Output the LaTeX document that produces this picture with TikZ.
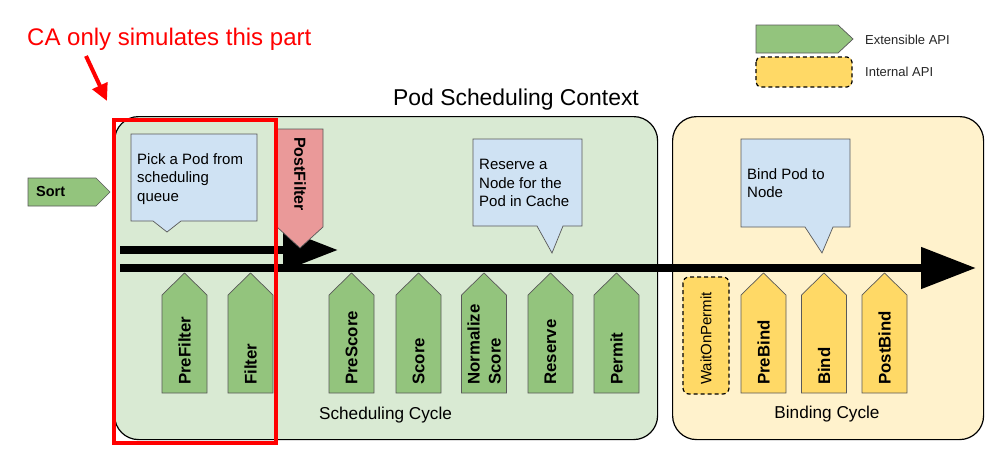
\documentclass[tikz,border=0pt]{standalone}
\usepackage{fontspec}
\setmainfont{Liberation Sans}
\usetikzlibrary{arrows.meta}
\definecolor{stagegreen}{HTML}{93C47D}
\definecolor{ctxgreen}{HTML}{D9EAD3}
\definecolor{ctxyellow}{HTML}{FFF2CC}
\definecolor{stageyellow}{HTML}{FFD966}
\definecolor{calloutblue}{HTML}{CFE2F3}
\definecolor{postpink}{HTML}{EA9999}
\definecolor{borderg}{HTML}{595959}
\newcommand\upstage[4]{%
  \draw[shapeline, fill=#3] ({#2-22.5},393) -- ({#2-22.5},295) -- (#2,273) -- ({#2+22.5},295) -- ({#2+22.5},393) -- cycle;
  \node[stagetext, rotate=90, anchor=west] (#1) at (#2,385) {#4};
}
\begin{document}
\begin{tikzpicture}[x=1pt,y=-1pt,
  ctxbox/.style={draw=black, line width=1.2pt, rounded corners=24pt, inner sep=0pt, anchor=north west},
  shapeline/.style={draw=borderg, line width=0.7pt},
  stagetext/.style={font=\bfseries\fontsize{16.8}{21}\selectfont, inner sep=0pt, align=left},
  callouttext/.style={font=\fontsize{15}{18.5}\selectfont, inner sep=0pt, align=left, anchor=north west},
  labeltext/.style={font=\fontsize{17.2}{20}\selectfont, inner sep=0pt},
  legendtext/.style={font=\fontsize{13}{15}\selectfont, inner sep=0pt, anchor=west, text=black!85},
  flow/.style={line width=8pt, draw=black},
  internal/.style={draw=black, line width=1.2pt, dash pattern=on 4pt off 3pt, fill=stageyellow, rounded corners=6pt}
]
\useasboundingbox (0,0) rectangle (1005,466);
\fill[white] (0,0) rectangle (1005,466);

% context boxes
\node[ctxbox, fill=ctxgreen, minimum width=543pt, minimum height=323pt] (sched) at (114,116) {};
\node[ctxbox, fill=ctxyellow, minimum width=311pt, minimum height=323pt] (bindc) at (672,116) {};
\node[font=\fontsize{22.9}{26}\selectfont, anchor=base west, inner sep=0pt] (title) at (393,105) {Pod Scheduling Context};
\node[labeltext] (schedlabel) at (385.5,415) {Scheduling Cycle};
\node[labeltext] (bindlabel) at (827,414) {Binding Cycle};

% callouts
\draw[shapeline, fill=calloutblue] (131,134) -- (257,134) -- (257,221) -- (181,221) -- (167,232) -- (153,221) -- (131,221) -- cycle;
\node[callouttext] (pick) at (137,153) {Pick a Pod from\\scheduling\\queue};
\draw[shapeline, fill=calloutblue] (473,139) -- (582,139) -- (582,226) -- (563,226) -- (552,253) -- (537,226) -- (473,226) -- cycle;
\node[callouttext] (reservenote) at (479,159) {Reserve a\\Node for the\\Pod in Cache};
\draw[shapeline, fill=calloutblue] (741,139) -- (850,139) -- (850,227) -- (833,227) -- (822,253) -- (805,227) -- (741,227) -- cycle;
\node[callouttext] (bindnote) at (747,168) {Bind Pod to\\Node};

% Sort
\draw[shapeline, fill=stagegreen] (28,178) -- (96,178) -- (110,192) -- (96,206) -- (28,206) -- cycle;
\node[font=\bfseries\fontsize{14.5}{17}\selectfont, inner sep=0pt, anchor=west] (sort) at (36,192) {Sort};

% flow arrows
\coordinate (qstart) at (120,250);
\coordinate (qend) at (338,250);
\coordinate (mstart) at (120,268);
\coordinate (mend) at (976,268);
\draw[flow, -{Triangle[length=55pt,width=40pt]}] (qstart) -- (qend);
\draw[flow, -{Triangle[length=55pt,width=40pt]}] (mstart) -- (mend);

% PostFilter
\draw[shapeline, fill=postpink] (277,129) -- (323,129) -- (323,227) -- (300,248) -- (277,227) -- cycle;
\node[font=\bfseries\fontsize{16}{19}\selectfont, inner sep=0pt, rotate=-90, anchor=west] (postfilter) at (300,137) {PostFilter};

% scheduling stages
\upstage{prefilter}{184.5}{stagegreen}{PreFilter}
\upstage{filter}{250.5}{stagegreen}{Filter}
\upstage{prescore}{351.5}{stagegreen}{PreScore}
\upstage{score}{418.5}{stagegreen}{Score}
\upstage{normalize}{484}{stagegreen}{Normalize\\Score}
\upstage{reserve}{550.5}{stagegreen}{Reserve}
\upstage{permit}{616.5}{stagegreen}{Permit}

% binding stages
\draw[internal] (683,277) rectangle (729,394);
\node[font=\fontsize{15}{18}\selectfont, inner sep=0pt, rotate=90, anchor=west] (waitonpermit) at (706,385) {WaitOnPermit};
\upstage{prebind}{763.5}{stageyellow}{PreBind}
\upstage{bind}{824}{stageyellow}{Bind}
\upstage{postbind}{884.5}{stageyellow}{PostBind}

% legend
\draw[shapeline, fill=stagegreen] (756,25) -- (838,25) -- (853,39) -- (838,53) -- (756,53) -- cycle;
\node[legendtext] (extlabel) at (865,40) {Extensible API};
\draw[internal, rounded corners=5pt] (756,57) rectangle (852,87);
\node[legendtext] (intlabel) at (865,72) {Internal API};

% CA annotation
\node[text=red, font=\fontsize{24}{28}\selectfont, anchor=base west, inner sep=0pt] (ca) at (27,45) {CA only simulates this part};
\coordinate (castart) at (86,56);
\coordinate (catip) at (107,101);
\draw[red, line width=4pt, -{Triangle[length=17pt,width=16pt]}] (castart) -- (catip);
\node[draw=red, line width=4pt, minimum width=161.7pt, minimum height=322.5pt, inner sep=0pt, anchor=north west] (capart) at (112,118) {};
\end{tikzpicture}
\end{document}
